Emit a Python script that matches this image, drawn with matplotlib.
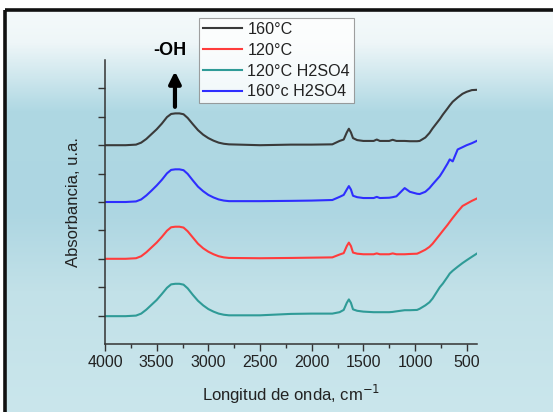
import matplotlib.pyplot as plt
import numpy as np
from matplotlib.colors import LinearSegmentedColormap

plt.rcParams["font.family"] = ["Liberation Sans", "DejaVu Sans"]

# FTIR spectra (stacked, arbitrary units)
wavenumber = [4000, 3800,
              3700, 3650, 3600, 3550, 3500, 3450, 3400, 3360, 3320, 3280, 3240, 3200,
              3150, 3100, 3050, 3000, 2950, 2900, 2850, 2800,
              2500, 2200, 2000, 1800,
              1730, 1690, 1660, 1640, 1620, 1600, 1560, 1500,
              1400, 1370, 1340, 1250, 1216, 1180,
              1100, 1050, 980, 955,
              900, 860, 830, 760, 730, 684, 664, 635, 587, 540, 500, 450, 403]

abs_160 = [7.0, 7.0,
           7.02, 7.09, 7.22, 7.39, 7.56, 7.76, 7.99, 8.1, 8.12, 8.12, 8.09, 7.96,
           7.74, 7.53, 7.37, 7.25, 7.16, 7.09, 7.05, 7.03,
           7.0, 7.02, 7.02, 7.03,
           7.15, 7.2, 7.45, 7.58, 7.45, 7.25, 7.18, 7.15,
           7.15, 7.2, 7.15, 7.15, 7.19, 7.15,
           7.15, 7.14, 7.14, 7.15,
           7.27, 7.43, 7.59, 7.92, 8.08, 8.3, 8.4, 8.53, 8.68, 8.81, 8.88, 8.94, 8.95]

abs_120 = [3.0, 3.0,
           3.02, 3.09, 3.23, 3.4, 3.57, 3.77, 3.99, 4.11, 4.13, 4.13, 4.1, 3.97,
           3.75, 3.53, 3.37, 3.25, 3.16, 3.09, 3.05, 3.03,
           3.02, 3.03, 3.04, 3.05,
           3.15, 3.2, 3.45, 3.57, 3.45, 3.22, 3.18, 3.16,
           3.16, 3.19, 3.16, 3.16, 3.19, 3.16,
           3.16, 3.17, 3.18, 3.22,
           3.32, 3.42, 3.53, 3.85, 3.99, 4.2, 4.3, 4.44, 4.66, 4.86, 4.94, 5.04, 5.12]

abs_120_h2so4 = [0.98, 0.98,
                 1.0, 1.07, 1.21, 1.38, 1.55, 1.76, 1.98, 2.1, 2.12, 2.12, 2.09, 1.96,
                 1.73, 1.52, 1.36, 1.23, 1.14, 1.07, 1.03, 1.01,
                 1.01, 1.06, 1.07, 1.07,
                 1.12, 1.2, 1.45, 1.57, 1.45, 1.22, 1.17, 1.14,
                 1.12, 1.12, 1.12, 1.12, 1.13, 1.15,
                 1.19, 1.19, 1.2, 1.24,
                 1.36, 1.47, 1.6, 2.0, 2.13, 2.37, 2.48, 2.58, 2.72, 2.85, 2.95, 3.07, 3.18]

abs_160_h2so4 = [5.0, 5.0,
                 5.02, 5.09, 5.23, 5.4, 5.58, 5.78, 6.01, 6.13, 6.15, 6.15, 6.12, 5.99,
                 5.76, 5.54, 5.38, 5.25, 5.16, 5.09, 5.05, 5.03,
                 5.03, 5.04, 5.05, 5.07,
                 5.18, 5.25, 5.44, 5.56, 5.44, 5.22, 5.17, 5.14,
                 5.14, 5.18, 5.14, 5.15, 5.17, 5.2,
                 5.49, 5.36, 5.29, 5.28,
                 5.36, 5.49, 5.62, 5.91, 6.08, 6.36, 6.5, 6.43, 6.85, 6.93, 7.0, 7.07, 7.15]

labels = ["160°C", "120°C", "120°C H2SO4", "160°c H2SO4"]
colors = ["#3a3a3a", "#ff3c3c", "#2f9b97", "#2e2eff"]
x_ticks = [4000, 3500, 3000, 2500, 2000, 1500, 1000, 500]

W, H = 553, 412
fig = plt.figure(figsize=(W / 100, H / 100), dpi=100)

# background: light blue vertical gradient inside a black frame
bg = fig.add_axes([0, 0, 1, 1], zorder=-10)
cmap = LinearSegmentedColormap.from_list(
    "bgrad",
    [(0.0, "#f5fafb"), (0.08, "#eef6f8"), (0.25, "#afd8e3"), (0.5, "#add6e2"),
     (0.7, "#c2e1e8"), (1.0, "#cae6ec")])
grad = np.linspace(0, 1, 400).reshape(-1, 1)
bg.imshow(grad, aspect="auto", cmap=cmap, extent=[6, W, H, 10])
bg.set_xlim(0, W)
bg.set_ylim(H, 0)
bg.plot([5, W], [10, 10], color="#111111", lw=2.6, solid_capstyle="butt")
bg.plot([5, 5], [10, H], color="#111111", lw=2.6, solid_capstyle="butt")
bg.axis("off")

ax = fig.add_axes([105 / W, (H - 344) / H, (477 - 105) / W, (344 - 60) / H])
ax.patch.set_alpha(0)

for y, lab, c in zip([abs_160, abs_120, abs_120_h2so4, abs_160_h2so4], labels, colors):
    ax.plot(wavenumber, y, color=c, lw=1.5, label=lab)

ax.set_xlim(4000, 400)
ax.set_ylim(0, 10)
ax.set_xticks(x_ticks)
ax.set_xticks(np.arange(3750, 400, -500), minor=True)
ax.set_yticks(np.arange(1, 10))
ax.set_yticklabels([])
for s in ["top", "right"]:
    ax.spines[s].set_visible(False)
for s in ["left", "bottom"]:
    ax.spines[s].set_color("#333333")
    ax.spines[s].set_linewidth(1.1)
ax.tick_params(which="major", direction="out", length=5, width=1, color="#333333",
               labelsize=11.5, labelcolor="#222222", pad=3)
ax.tick_params(which="minor", direction="out", length=3, width=1, color="#333333")

ax.set_xlabel("Longitud de onda, cm$^{-1}$", fontsize=12, color="#222222", labelpad=9)
ax.set_ylabel("Absorbancia, u.a.", fontsize=12, color="#222222", labelpad=9)

# -OH band marker
ax.annotate("", xy=(3323, 9.6), xytext=(3323, 8.35), annotation_clip=False,
            arrowprops=dict(arrowstyle="-|>,head_width=0.35,head_length=0.7",
                            lw=3, color="black", shrinkA=0, shrinkB=0))
ax.text(3372, 10.35, "-OH", fontsize=13, fontweight="bold", ha="center", va="center",
        clip_on=False)

leg = ax.legend(loc="upper left", bbox_to_anchor=(199 / W, 1 - 18 / H),
                bbox_transform=fig.transFigure, fontsize=11.6, frameon=True,
                fancybox=False, borderaxespad=0, handlelength=2.4, handletextpad=0.35,
                labelspacing=0.36, borderpad=0.25)
leg.get_frame().set_edgecolor("#888888")
leg.get_frame().set_linewidth(0.8)
for t in leg.get_texts():
    t.set_color("#222222")

fig.savefig("out.png", dpi=100)
